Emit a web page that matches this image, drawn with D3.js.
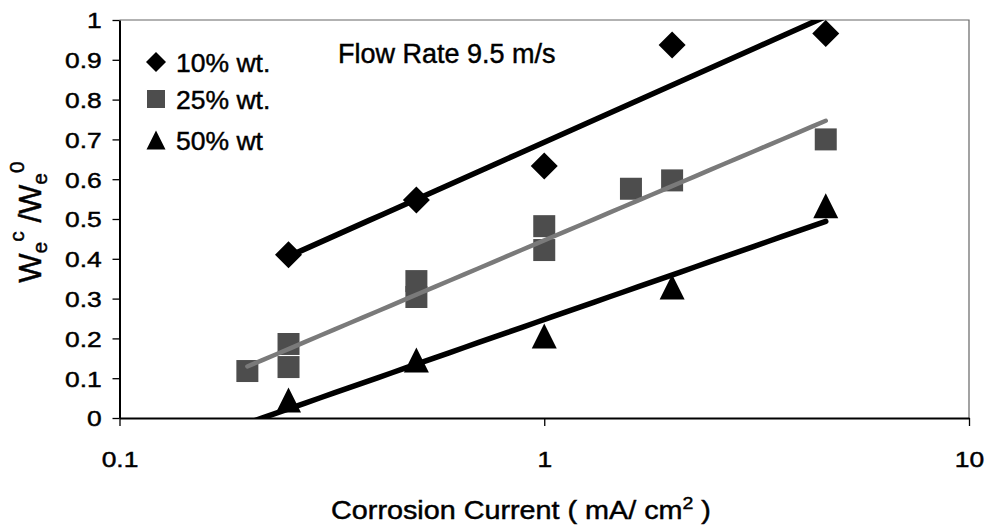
<!DOCTYPE html>
<html>
<head>
<meta charset="utf-8">
<script src="https://cdn.jsdelivr.net/npm/d3@7"></script>
<style>
  html, body { margin: 0; padding: 0; background: #fff; }
  svg text { font-family: "Liberation Sans", Arial, sans-serif; fill: #000; stroke: #000; stroke-width: 0.45px; }
</style>
</head>
<body>
<svg id="chart" width="990" height="530"></svg>
<script>
// Residual erosion ratio versus corrosion current at 9.5 m/s
const xTickValues = [0.1, 1, 10];
const xTickLabels = ["0.1", "1", "10"];
const yTickValues = [0, 0.1, 0.2, 0.3, 0.4, 0.5, 0.6, 0.7, 0.8, 0.9, 1];
const yTickLabels = ["0", "0.1", "0.2", "0.3", "0.4", "0.5", "0.6", "0.7", "0.8", "0.9", "1"];

const seriesNames = ["10% wt.", "25% wt.", "50% wt"];

const current10 = [0.25, 0.5, 1, 2, 4.6];
const ratio10   = [0.41, 0.548, 0.633, 0.937, 0.966];

const current25 = [0.2, 0.25, 0.25, 0.5, 0.5, 1, 1, 1.6, 2, 4.6];
const ratio25   = [0.118, 0.186, 0.128, 0.344, 0.304, 0.482, 0.422, 0.576, 0.597, 0.70];

const current50 = [0.25, 0.5, 1, 2, 4.6];
const ratio50   = [0.045, 0.146, 0.206, 0.329, 0.533];

// lower end of each logarithmic trend line
const trendFrom = [0.25, 0.2, 0.2];

const svg = d3.select("#chart");
const margin = { left: 119.5, right: 21, top: 20, bottom: 112 };
const W = 990, H = 530;
const x0 = margin.left, x1 = W - margin.right;
const y0 = H - margin.bottom, y1 = margin.top;

const x = d3.scaleLog().domain([0.1, 10]).range([x0, x1]);
const y = d3.scaleLinear().domain([0, 1]).range([y0, y1]);

const series = [
  { name: seriesNames[0], xs: current10, ys: ratio10, shape: "diamond", fill: "#000", line: "#000", lw: 5.5 },
  { name: seriesNames[1], xs: current25, ys: ratio25, shape: "square",  fill: "#4d4d4d", line: "#7a7a7a", lw: 4.5 },
  { name: seriesNames[2], xs: current50, ys: ratio50, shape: "triangle", fill: "#000", line: "#000", lw: 5.5 }
];

// least-squares fit of y against log10(x)
function logFit(xs, ys) {
  const lx = xs.map(v => Math.log10(v));
  const mx = d3.mean(lx), my = d3.mean(ys);
  let sxy = 0, sxx = 0;
  lx.forEach((v, i) => { sxy += (v - mx) * (ys[i] - my); sxx += (v - mx) * (v - mx); });
  const b = sxy / sxx;
  return { a: my - b * mx, b };
}

// clip region = plot area
svg.append("defs").append("clipPath").attr("id", "plotClip")
  .append("rect").attr("x", x0).attr("y", y1).attr("width", x1 - x0).attr("height", y0 - y1);

// frame: top and right borders
svg.append("path")
  .attr("d", `M${x0},${y1}H${x1}V${y0}`)
  .attr("fill", "none").attr("stroke", "#666").attr("stroke-width", 1.2);

// marker symbols
function markerPath(shape, s) {
  if (shape === "diamond") return `M0,${-s}L${s},0L0,${s}L${-s},0Z`;
  if (shape === "square") return `M${-s},${-s}H${s}V${s}H${-s}Z`;
  return `M0,${-s}L${s},${s}L${-s},${s}Z`;
}
const markerSize = { diamond: 13.5, square: 11, triangle: 12.5 };

const plot = svg.append("g");
series.forEach(s => {
  plot.append("g").selectAll("path")
    .data(s.xs.map((v, i) => [v, s.ys[i]]))
    .join("path")
    .attr("transform", d => `translate(${x(d[0])},${y(d[1])})`)
    .attr("d", markerPath(s.shape, markerSize[s.shape]))
    .attr("fill", s.fill);
});

// trend lines on top of markers
const lines = svg.append("g").attr("clip-path", "url(#plotClip)");
series.forEach((s, k) => {
  const fit = logFit(s.xs, s.ys);
  const xa = trendFrom[k], xb = d3.max(s.xs);
  const pts = d3.range(0, 41).map(i => {
    const xv = Math.pow(10, Math.log10(xa) + (Math.log10(xb) - Math.log10(xa)) * i / 40);
    return [xv, fit.a + fit.b * Math.log10(xv)];
  });
  lines.append("path")
    .attr("d", d3.line().x(d => x(d[0])).y(d => y(d[1]))(pts))
    .attr("fill", "none").attr("stroke", s.line).attr("stroke-width", s.lw)
    .attr("stroke-linecap", "round");
});

// axes
const yAxis = svg.append("g").attr("transform", `translate(${x0},0)`)
  .call(d3.axisLeft(y).tickValues(yTickValues).tickFormat((d, i) => yTickLabels[i]).tickSize(7).tickSizeOuter(0));
const xAxis = svg.append("g").attr("transform", `translate(0,${y0})`)
  .call(d3.axisBottom(x).tickValues(xTickValues).tickFormat((d, i) => xTickLabels[i]).tickSize(8).tickSizeOuter(0));

[yAxis, xAxis].forEach(g => {
  g.select(".domain").attr("stroke", "#000").attr("stroke-width", 2);
  g.selectAll(".tick line").attr("stroke", "#000").attr("stroke-width", 1.3);
  g.selectAll("text").attr("font-size", 22).attr("font-family", "Liberation Sans, Arial, sans-serif").attr("fill", "#000");
});
yAxis.selectAll(".tick text").attr("x", -14.8).attr("dy", "0.36em").attr("transform", "scale(1.2,1)");
xAxis.selectAll(".tick text").attr("y", 49).attr("dy", 0).attr("transform", "scale(1.2,1)");

// legend
const legend = svg.append("g");
const legendRows = [62, 99, 140];
const legendSize = { diamond: 10, square: 9, triangle: 9.5 };
series.forEach((s, i) => {
  legend.append("path")
    .attr("transform", `translate(156,${legendRows[i]})`)
    .attr("d", markerPath(s.shape, legendSize[s.shape]))
    .attr("fill", s.fill);
  legend.append("text")
    .attr("x", 176).attr("y", legendRows[i] + 10)
    .attr("font-size", 26.5).text(s.name);
});

svg.append("text").attr("x", 338).attr("y", 63).attr("font-size", 27).text("Flow Rate 9.5 m/s");

// axis titles
const yt = svg.append("text")
  .attr("transform", "translate(41,222) rotate(-90)")
  .attr("text-anchor", "middle").attr("font-size", 31);
yt.append("tspan").text("W");
yt.append("tspan").attr("font-size", 21).attr("baseline-shift", "-30%").text("e");
yt.append("tspan").attr("font-size", 21).attr("baseline-shift", "80%").text("c");
yt.append("tspan").text(" /W");
yt.append("tspan").attr("font-size", 21).attr("baseline-shift", "-30%").text("e");
yt.append("tspan").attr("font-size", 21).attr("baseline-shift", "80%").text("0");

const xt = svg.append("text")
  .attr("transform", "translate(521,519) scale(1.15,1)")
  .attr("text-anchor", "middle").attr("font-size", 25);
xt.append("tspan").text("Corrosion Current ( mA/ cm");
xt.append("tspan").attr("font-size", 17).attr("baseline-shift", "60%").text("2");
xt.append("tspan").text(" )");
</script>
</body>
</html>
